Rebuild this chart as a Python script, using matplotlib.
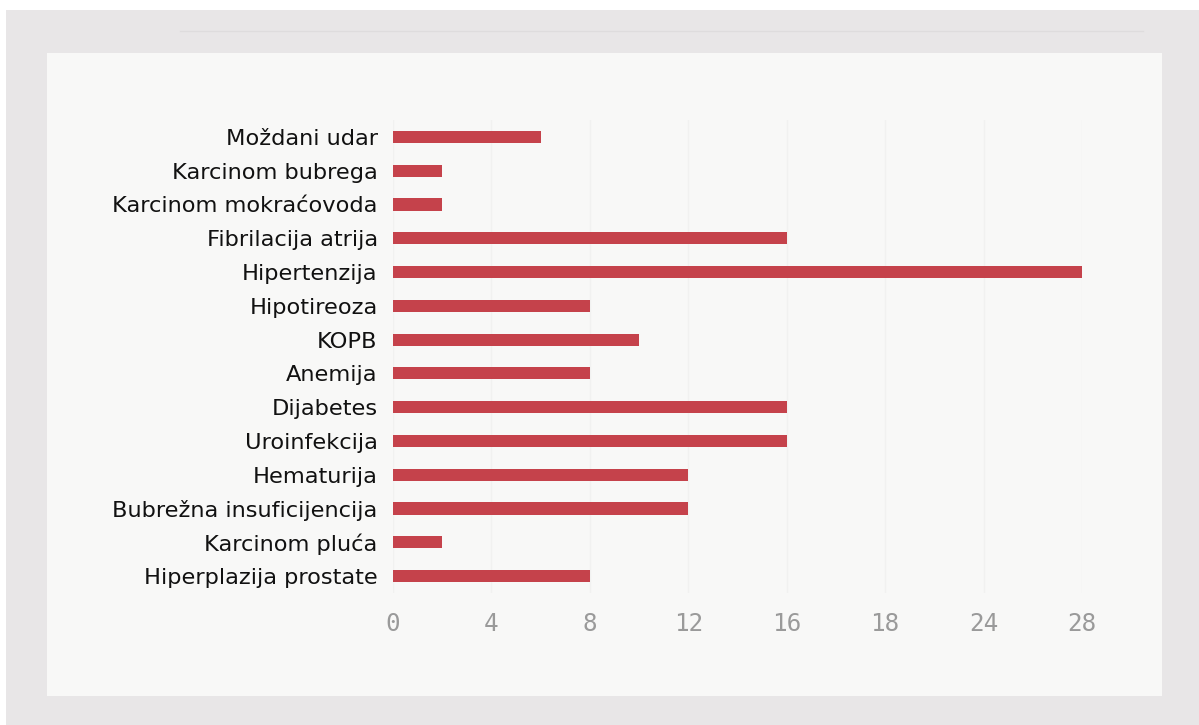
import matplotlib
matplotlib.use("Agg")
import matplotlib.pyplot as plt
from matplotlib.patches import Rectangle
from matplotlib.lines import Line2D

categories = ["Moždani udar", "Karcinom bubrega", "Karcinom mokraćovoda",
              "Fibrilacija atrija", "Hipertenzija", "Hipotireoza", "KOPB",
              "Anemija", "Dijabetes", "Uroinfekcija", "Hematurija",
              "Bubrežna insuficijencija", "Karcinom pluća", "Hiperplazija prostate"]
values = [6, 2, 2, 16, 28, 8, 10, 8, 16, 16, 12, 12, 2, 8]
tick_pos = [0, 4, 8, 12, 16, 20, 24, 28]
tick_labels = ["0", "4", "8", "12", "16", "18", "24", "28"]

W, H = 1199, 725
fig = plt.figure(figsize=(W / 100, H / 100), dpi=100, facecolor="white")

# gray frame and light panel
fig.patches.append(Rectangle((6 / W, 0), 1 - 6 / W, 1 - 10 / H, transform=fig.transFigure,
                             facecolor="#e8e6e7", edgecolor="none", zorder=0))
fig.patches.append(Rectangle((47 / W, 1 - 696 / H), (1162 - 47) / W, (696 - 53) / H,
                             transform=fig.transFigure, facecolor="#f8f8f7",
                             edgecolor="none", zorder=1))
fig.lines.append(Line2D([180 / W, 1143 / W], [1 - 31 / H, 1 - 31 / H], transform=fig.transFigure,
                        color="#dedcdd", lw=1, zorder=1))

ax = fig.add_axes([393 / W, 1 - 593 / H, (1082 - 393) / W, (593 - 120) / H])
ax.set_facecolor("none")
ax.set_zorder(2)

y = list(range(len(categories)))
ax.barh(y, values, height=0.36, color="#c5424b", zorder=3)
ax.set_xlim(0, 28)
ax.set_ylim(len(categories) - 0.5, -0.5)

ax.set_xticks(tick_pos)
ax.set_xticklabels(tick_labels, fontsize=17.5, color="#9a9a9a",
                   family="DejaVu Sans Mono")
ax.set_yticks(y)
ax.set_yticklabels(categories, fontsize=16.2, color="#111111", family="DejaVu Sans")
ax.tick_params(axis="x", length=0, pad=14)
ax.tick_params(axis="y", length=0, pad=11)
ax.grid(axis="x", color="#f1f1f0", lw=1, zorder=0)
for s in ax.spines.values():
    s.set_visible(False)

fig.savefig("out.png", dpi=100, facecolor="white")
